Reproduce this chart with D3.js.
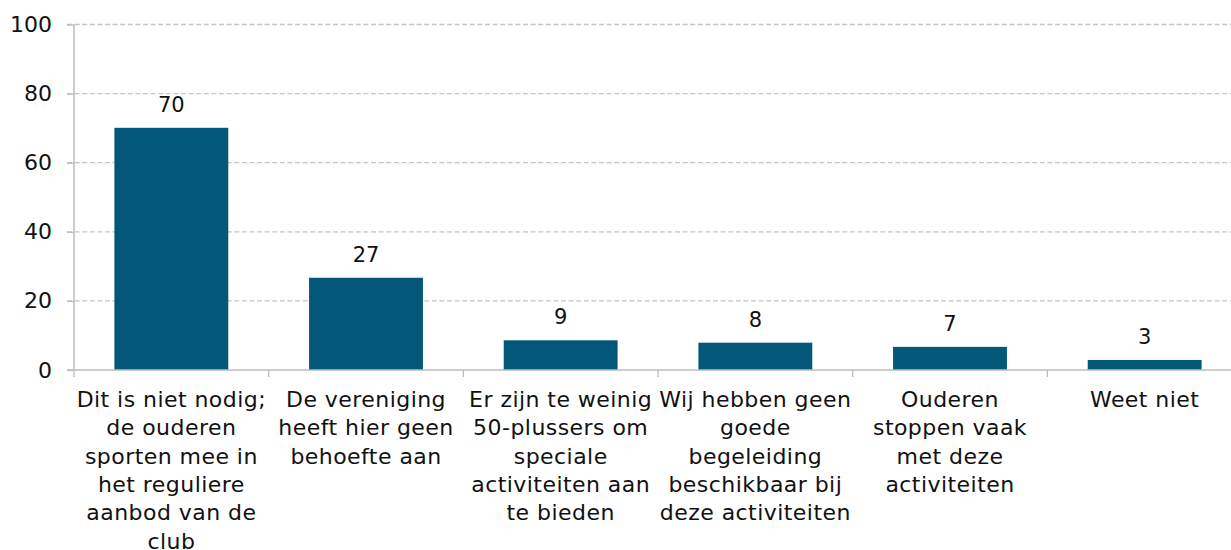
<!DOCTYPE html>
<html>
<head>
<meta charset="utf-8">
<script src="https://cdn.jsdelivr.net/npm/d3@7"></script>
<style>
  body { margin: 0; background: #fff; }
  svg text { font-family: "DejaVu Sans", sans-serif; fill: #111; }
</style>
</head>
<body>
<div id="chart"></div>
<script>
// categories, wrapped the way the original shows them
const categories = [
    ["Dit is niet nodig;", "de ouderen", "sporten mee in", "het reguliere", "aanbod van de", "club"],
    ["De vereniging", "heeft hier geen", "behoefte aan"],
    ["Er zijn te weinig", "50-plussers om", "speciale", "activiteiten aan", "te bieden"],
    ["Wij hebben geen", "goede", "begeleiding", "beschikbaar bij", "deze activiteiten"],
    ["Ouderen", "stoppen vaak", "met deze", "activiteiten"],
    ["Weet niet"]
];
const values = [70.1, 26.7, 8.6, 7.9, 6.7, 2.9];
const yTicks = [0, 20, 40, 60, 80, 100];

const width = 1231, height = 550;
const plotLeft = 74, plotRight = 1242, plotTop = 24.5, plotBottom = 370;

const svg = d3.select("#chart").append("svg")
    .attr("width", width)
    .attr("height", height);

const ids = categories.map((d, i) => i);

// category slots and the bars inside them
const xCat = d3.scaleBand().domain(ids).range([plotLeft, plotRight]);
const x = d3.scaleBand().domain(ids).range([plotLeft, plotRight])
    .paddingInner(0.415).paddingOuter(0.2075);

const y = d3.scaleLinear().domain([0, 100]).range([plotBottom, plotTop]);

// dashed gridlines
svg.append("g")
    .selectAll("line")
    .data(yTicks.filter(d => d > 0))
    .enter().append("line")
    .attr("x1", plotLeft - 7)
    .attr("x2", width)
    .attr("y1", d => y(d))
    .attr("y2", d => y(d))
    .attr("stroke", "#c4c4c4")
    .attr("stroke-width", 1.3)
    .attr("stroke-dasharray", "5,2.6");

// y axis
const yAxis = svg.append("g")
    .attr("transform", `translate(${plotLeft},0)`)
    .call(d3.axisLeft(y).tickValues(yTicks).tickSize(7).tickPadding(15));
yAxis.select(".domain").attr("stroke", "#bdbdbd").attr("stroke-width", 1.5).attr("d", `M0,${plotTop}V${plotBottom}`);
yAxis.selectAll(".tick line").attr("stroke", "#bdbdbd").attr("stroke-width", 1.3);
yAxis.selectAll(".tick text")
    .style("font-size", "22px")
    .style("font-family", "DejaVu Sans, sans-serif")
    .attr("fill", "#111");

// bars
svg.append("g")
    .selectAll("rect")
    .data(values)
    .enter().append("rect")
    .attr("x", (d, i) => x(i))
    .attr("y", d => y(d))
    .attr("width", x.bandwidth())
    .attr("height", d => y(0) - y(d))
    .attr("fill", "#03587a");

// value labels
svg.append("g")
    .selectAll("text")
    .data(values)
    .enter().append("text")
    .attr("x", (d, i) => x(i) + x.bandwidth() / 2)
    .attr("y", d => y(d) - 16)
    .attr("text-anchor", "middle")
    .style("font-size", "21px")
    .text(d => d3.format(".0f")(d));

// x axis line and slot ticks
svg.append("line")
    .attr("x1", plotLeft - 7).attr("x2", width)
    .attr("y1", plotBottom).attr("y2", plotBottom)
    .attr("stroke", "#bdbdbd").attr("stroke-width", 1.5);

svg.append("g")
    .selectAll("line")
    .data(ids.concat([ids.length]))
    .enter().append("line")
    .attr("x1", d => plotLeft + d * xCat.step())
    .attr("x2", d => plotLeft + d * xCat.step())
    .attr("y1", plotBottom)
    .attr("y2", plotBottom + 7)
    .attr("stroke", "#bdbdbd").attr("stroke-width", 1.3);

// category labels
const lab = svg.append("g")
    .selectAll("text")
    .data(categories)
    .enter().append("text")
    .attr("text-anchor", "middle")
    .style("font-size", "22px")
    .style("letter-spacing", "0.45px")
    .attr("transform", (d, i) => `translate(${xCat(i) + xCat.bandwidth() / 2},407)`);

lab.selectAll("tspan")
    .data(d => d)
    .enter().append("tspan")
    .attr("x", 0)
    .attr("y", (d, i) => i * 28.3)
    .text(d => d);
</script>
</body>
</html>
